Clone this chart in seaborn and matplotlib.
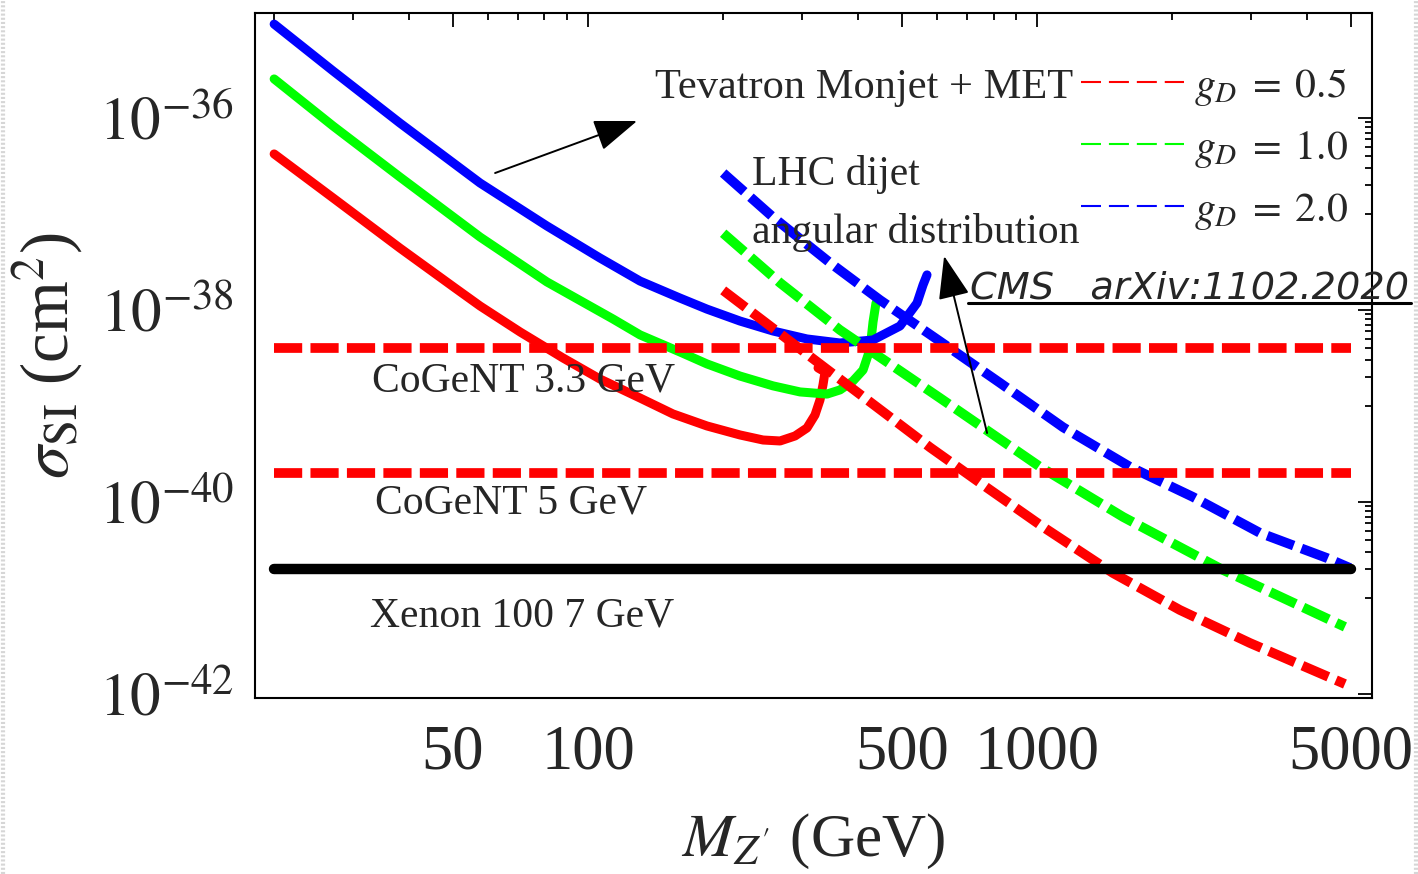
import numpy as np
import pandas as pd
import seaborn as sns
import matplotlib.pyplot as plt
from matplotlib.lines import Line2D
from matplotlib.ticker import FixedLocator, FixedFormatter, NullFormatter

# Tevatron monojet + MET bounds (solid curves), M_Z' in GeV, sigma_SI in cm^2
tev_m_05 = [20, 27.05, 38.1, 50.6, 57.5, 70.6, 88.0, 106.3, 130.6, 154.6, 184.1, 218, 245.4,
            267.7, 289.1, 307.4, 320.3, 328.6, 333.7, 337.2, 325.3]
tev_s_05 = [4.22e-37, 1.47e-37, 4.42e-38, 1.69e-38, 1.10e-38, 5.9e-39, 3.16e-39, 1.91e-39,
            1.21e-39, 8.26e-40, 6.19e-40, 4.99e-40, 4.42e-40, 4.32e-40, 4.87e-40, 5.9e-40,
            8.06e-40, 1.155e-39, 1.66e-39, 2.26e-39, 2.49e-39]
tev_m_10 = [20, 27.05, 38.1, 57.5, 81.0, 113.7, 130.6, 160.3, 184.1, 218, 258.2, 296.7,
            340.6, 364.1, 389.2, 409.8, 420.5, 426.9, 431.3, 437.9]
tev_s_10 = [2.55e-36, 8.25e-37, 2.43e-37, 5.75e-38, 1.96e-38, 8.05e-39, 5.5e-39, 3.65e-39,
            2.74e-39, 2.05e-39, 1.62e-39, 1.40e-39, 1.33e-39, 1.47e-39, 1.82e-39, 2.37e-39,
            3.4e-39, 4.87e-39, 7.5e-39, 1.18e-38]
tev_m_20 = [20, 27.05, 38.1, 57.5, 81.0, 106.3, 130.6, 160.3, 184.1, 218, 258.2, 307.4,
            364.1, 431.2, 495.3, 540.4, 557.3, 568.9]
tev_s_20 = [9.5e-36, 3.09e-36, 8.87e-37, 2.1e-37, 7.5e-38, 3.48e-38, 2.0e-38, 1.33e-38,
            1.02e-38, 7.67e-39, 6.04e-39, 4.99e-39, 4.53e-39, 4.87e-39, 6.81e-39, 1.18e-38,
            1.82e-38, 2.32e-38]

# LHC dijet angular distribution bounds (dashed curves)
lhc_m_05 = [200, 337, 578, 747, 1031, 1476, 2080, 2978, 4850]
lhc_s_05 = [1.6e-38, 2.5e-39, 3.7e-40, 1.58e-40, 5.5e-41, 1.82e-41, 7.5e-42, 3.4e-42, 1.27e-42]
lhc_m_10 = [200, 268, 364, 608, 1016, 1555, 2594, 4850]
lhc_s_10 = [6.3e-38, 1.91e-38, 6.19e-39, 1.21e-39, 2.32e-40, 6.98e-41, 1.96e-41, 5.0e-42]
lhc_m_20 = [200, 258, 346, 447, 650, 827, 1143, 1611, 2223, 3140, 4430, 4980]
lhc_s_20 = [2.67e-37, 9.3e-38, 3.1e-38, 1.27e-38, 3.8e-39, 1.74e-39, 6.0e-40, 2.32e-40,
            1.13e-40, 4.75e-41, 2.6e-41, 2.05e-41]

# direct detection lines
hline_m = [20, 5000]
cogent33 = 4.0e-39
cogent5 = 2.0e-40
xenon7 = 2.0e-41

x_major = [50, 100, 500, 1000, 5000]
x_labels = ["50", "100", "500", "1000", "5000"]
x_minor = [20, 30, 40, 60, 70, 80, 90, 200, 300, 400, 600, 700, 800, 900, 2000, 3000, 4000]
y_major = [1e-36, 1e-38, 1e-40, 1e-42]
y_labels = [r"$10^{-36}$", r"$10^{-38}$", r"$10^{-40}$", r"$10^{-42}$"]

sns.set_style("white")
plt.rcParams["font.family"] = ["Liberation Serif", "DejaVu Serif"]
plt.rcParams["mathtext.fontset"] = "stix"

fig = plt.figure(figsize=(14.18, 8.74), dpi=100)
ax = fig.add_axes([255 / 1418, 1 - 698 / 874, 1117 / 1418, 685 / 874])
ax.set_xscale("log")
ax.set_yscale("log")

RED, GREEN, BLUE = "#ff0000", "#00ff00", "#0000ff"
dash = (2.9, 0.85)

for m, s, c in [(tev_m_05, tev_s_05, RED), (tev_m_10, tev_s_10, GREEN), (tev_m_20, tev_s_20, BLUE)]:
    sns.lineplot(x=m, y=s, sort=False, estimator=None, color=c, lw=6.5, ax=ax,
                 solid_joinstyle="round")

for m, s, c in [(lhc_m_05, lhc_s_05, RED), (lhc_m_10, lhc_s_10, GREEN), (lhc_m_20, lhc_s_20, BLUE)]:
    sns.lineplot(x=m, y=s, sort=False, estimator=None, color=c, lw=7, dashes=dash, ax=ax)

sns.lineplot(x=hline_m, y=[cogent33] * 2, color=RED, lw=7, dashes=dash, ax=ax)
sns.lineplot(x=hline_m, y=[cogent5] * 2, color=RED, lw=7, dashes=dash, ax=ax)
sns.lineplot(x=hline_m, y=[xenon7] * 2, color="black", lw=7.5, ax=ax)

ax.set_xlim(18.13, 5572)
ax.set_ylim(9.08e-43, 1.24e-35)

ax.xaxis.set_major_locator(FixedLocator(x_major))
ax.xaxis.set_major_formatter(FixedFormatter(x_labels))
ax.xaxis.set_minor_locator(FixedLocator(x_minor))
ax.xaxis.set_minor_formatter(NullFormatter())
ax.yaxis.set_major_locator(FixedLocator(y_major))
ax.yaxis.set_major_formatter(FixedFormatter(y_labels))
y_minor = [k * 10.0 ** e for e in (-37, -39, -41) for k in range(1, 10)]
ax.yaxis.set_minor_locator(FixedLocator(y_minor))
ax.yaxis.set_minor_formatter(NullFormatter())

ax.tick_params(which="both", direction="in", top=True, right=True, width=1.3, color="black")
ax.tick_params(which="major", length=10)
ax.tick_params(which="minor", length=5)
ax.tick_params(axis="x", which="major", labelsize=45, pad=19)
ax.tick_params(axis="y", which="major", labelsize=44, pad=15)
for sp in ax.spines.values():
    sp.set_linewidth(1.5)
    sp.set_color("black")

ax.set_xlabel(r"$M_{Z'}$ (GeV)", fontsize=44)
ax.xaxis.set_label_coords(0.5, -0.21)
ax.xaxis.label.set_va("center")
ax.set_ylabel(r"$\sigma_{\mathrm{SI}}$ (cm$^2$)", fontsize=48)
ax.yaxis.set_label_coords(-0.186, 0.5)
ax.yaxis.label.set_va("center")

# annotations
ax.text(141, 1.61e-36, "Tevatron Monjet + MET", fontsize=30.5, va="baseline")
ax.text(232, 2.0e-37, "LHC dijet", fontsize=30, va="baseline")
ax.text(232, 5.0e-38, "angular distribution", fontsize=30, va="baseline")
ax.text(33.0, 1.40e-39, "CoGeNT 3.3 GeV", fontsize=30, va="baseline")
ax.text(33.6, 7.67e-41, "CoGeNT 5 GeV", fontsize=30, va="baseline")
ax.text(32.7, 4.99e-42, "Xenon 100 7 GeV", fontsize=30, va="baseline")
cms = ax.text(710, 1.33e-38, "CMS   arXiv:1102.2020", fontsize=27.5, family="DejaVu Sans",
              style="italic", va="baseline", clip_on=False)

arrow = dict(arrowstyle="-|>,head_length=0.6,head_width=0.22", mutation_scale=45,
             lw=1.4, color="black", shrinkA=0, shrinkB=0)
ax.annotate("", xy=(128.6, 9.3e-37), xytext=(62.1, 2.67e-37), arrowprops=arrow)
ax.annotate("", xy=(621, 3.65e-38), xytext=(774, 5.23e-40), arrowprops=arrow)

handles = [Line2D([], [], color=c, lw=1.5, dashes=(9.6, 3.8)) for c in (RED, GREEN, BLUE)]
labels = [r"$g_D\;=\;0.5$", r"$g_D\;=\;1.0$", r"$g_D\;=\;2.0$"]
ax.legend(handles, labels, loc="upper right", bbox_to_anchor=(1348 / 1418, 1 - 66 / 874),
          bbox_transform=fig.transFigure, frameon=False, fontsize=30, borderpad=0,
          borderaxespad=0, handlelength=2.47, handletextpad=0.24, labelspacing=0.5)

# underline under the CMS reference
fig.canvas.draw()
bb = cms.get_window_extent(fig.canvas.get_renderer())
base_y = ax.transData.transform((710, 1.33e-38))[1]
inv = fig.transFigure.inverted()
(x0, yl), (x1, _) = inv.transform([(bb.x0 - 2, base_y - 5), (bb.x1 + 2, base_y - 5)])
fig.add_artist(Line2D([x0, x1], [yl, yl], color="black", lw=2.2))

# faint dashed page border of the source screenshot
for xf in (2.5 / 1418, 1415.5 / 1418):
    fig.add_artist(Line2D([xf, xf], [0, 1], color="#d6d6d6", lw=3, dashes=(0.5, 0.5)))

fig.savefig("out.png", dpi=100)
